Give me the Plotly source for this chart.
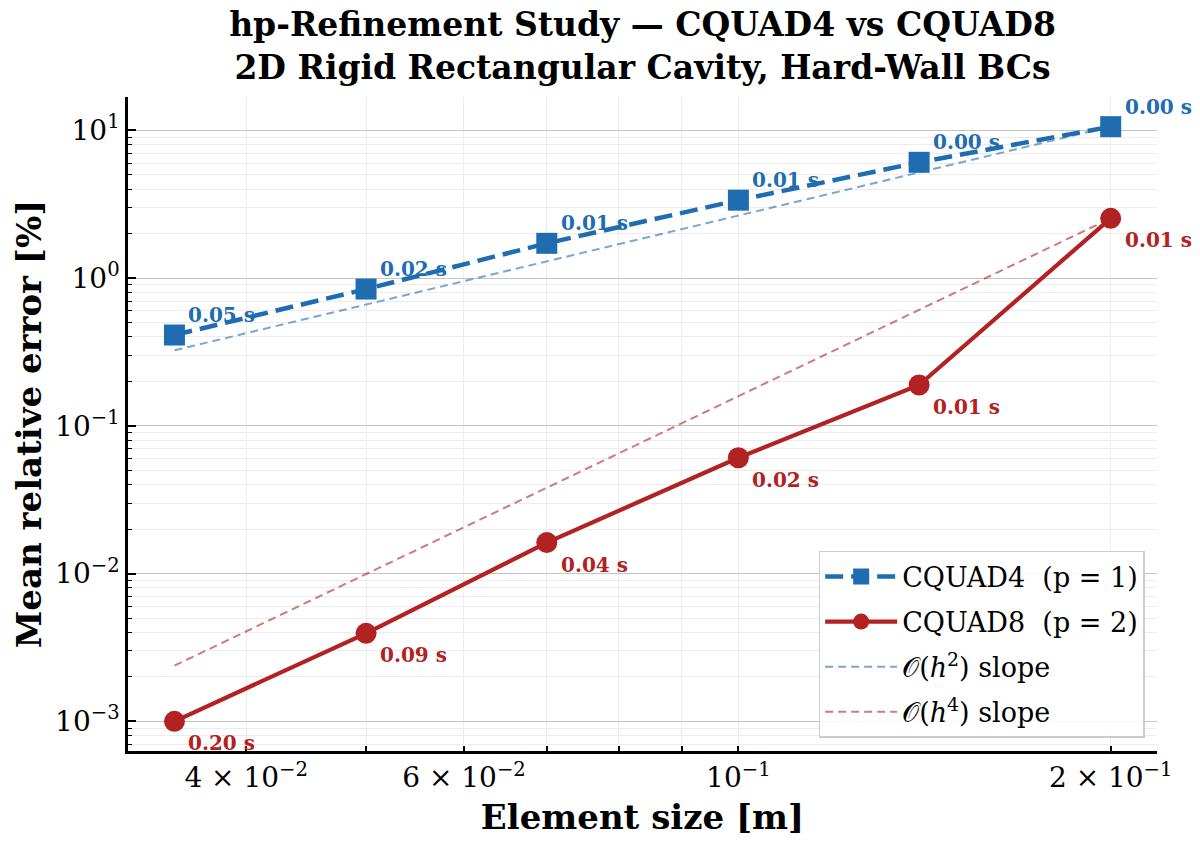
import numpy as np
import plotly.graph_objects as go

# %% data
element_size = [0.035, 0.05, 0.07, 0.1, 0.14, 0.2]
err_cquad4 = [0.412, 0.843, 1.72, 3.37, 6.08, 10.6]
err_cquad8 = [0.001, 0.00394, 0.0162, 0.0608, 0.189, 2.54]
time_cquad4 = ['0.05 s', '0.02 s', '0.01 s', '0.01 s', '0.00 s', '0.00 s']
time_cquad8 = ['0.20 s', '0.09 s', '0.04 s', '0.02 s', '0.01 s', '0.01 s']

x_tickvals = [0.04, 0.06, 0.1, 0.2]
x_ticktext = ['4 × 10<sup>−2</sup>', '6 × 10<sup>−2</sup>', '10<sup>−1</sup>', '2 × 10<sup>−1</sup>']
y_tickvals = [1e-3, 1e-2, 1e-1, 1e0, 1e1]
y_ticktext = ['10<sup>−3</sup>', '10<sup>−2</sup>', '10<sup>−1</sup>', '10<sup>0</sup>', '10<sup>1</sup>']

BLUE = '#1f6db0'
RED = '#b22222'
FONT = 'DejaVu Serif'

# reference slopes anchored at the coarsest mesh
h = np.array(element_size)
slope2 = err_cquad4[-1] * (h / h[-1]) ** 2
slope4 = err_cquad8[-1] * (h / h[-1]) ** 4

fig = go.Figure()
fig.add_trace(go.Scatter(
    x=element_size, y=err_cquad4, mode='lines+markers', name='CQUAD4  (p = 1)', legendgroup='a',
    line=dict(color=BLUE, width=4.5, dash='18px,8px'),
    marker=dict(symbol='square', size=21, color=BLUE)))
fig.add_trace(go.Scatter(
    x=element_size, y=err_cquad8, mode='lines+markers', name='CQUAD8  (p = 2)', legendgroup='b',
    line=dict(color=RED, width=4.2),
    marker=dict(symbol='circle', size=21, color=RED)))
fig.add_trace(go.Scatter(
    x=element_size, y=slope2, mode='lines', name='𝒪(<i>h</i><sup>2</sup>) slope', legendgroup='c',
    line=dict(color='rgba(31,109,176,0.6)', width=2, dash='8px,5px')))
fig.add_trace(go.Scatter(
    x=element_size, y=slope4, mode='lines', name='𝒪(<i>h</i><sup>4</sup>) slope', legendgroup='d',
    line=dict(color='rgba(178,34,34,0.6)', width=2, dash='8px,5px')))

for xv, yv, t in zip(element_size, err_cquad4, time_cquad4):
    fig.add_annotation(x=np.log10(xv), y=np.log10(yv), text=f'<b>{t}</b>', showarrow=False,
                       xanchor='left', yanchor='middle', xshift=12, yshift=20,
                       font=dict(family=FONT, size=20, color=BLUE))
for xv, yv, t in zip(element_size, err_cquad8, time_cquad8):
    fig.add_annotation(x=np.log10(xv), y=np.log10(yv), text=f'<b>{t}</b>', showarrow=False,
                       xanchor='left', yanchor='middle', xshift=12, yshift=-22,
                       font=dict(family=FONT, size=20, color=RED))

x_minor = [0.04, 0.05, 0.06, 0.07, 0.08, 0.09, 0.2]
y_minor = [m * 10.0 ** e for e in range(-4, 2) for m in range(2, 10)]
x_range = [np.log10(0.0321), np.log10(0.218)]

# page body adds an 8px offset, so the figure is 8px smaller and margins shifted
fig.update_layout(
    width=1192, height=834,
    paper_bgcolor='white', plot_bgcolor='white',
    margin=dict(l=120, r=43, t=89, b=87),
    font=dict(family=FONT, color='black'),
    title=dict(text='<b>hp-Refinement Study — CQUAD4 vs CQUAD8<br>2D Rigid Rectangular Cavity, Hard-Wall BCs</b>',
               x=0.5, xref='paper', xanchor='center', y=0.966, yanchor='middle',
               font=dict(family=FONT, size=33, color='black')),
    xaxis=dict(type='log', range=x_range,
               tickvals=x_tickvals, ticktext=x_ticktext,
               tickfont=dict(size=28), ticks='inside', ticklen=5, tickwidth=1.5, tickcolor='black',
               showgrid=True, gridcolor='#ececec', gridwidth=1,
               minor=dict(tickvals=x_minor, ticks='inside', ticklen=5, tickwidth=1.5, tickcolor='black',
                          showgrid=True, gridcolor='#ececec', gridwidth=1),
               showline=True, linecolor='black', linewidth=2.5, zeroline=False,
               title=dict(text='<b>Element size [m]</b>', font=dict(size=34), standoff=12)),
    xaxis2=dict(type='log', overlaying='x', matches='x', range=x_range,
                tickvals=[0.1], showticklabels=False, ticks='inside', ticklen=8, tickwidth=1.5,
                tickcolor='black', showgrid=True, gridcolor='#c4c4c4', zeroline=False, showline=False),
    yaxis=dict(type='log', range=[-3.201, 1.226],
               tickvals=y_tickvals, ticktext=y_ticktext,
               tickfont=dict(size=28), ticks='inside', ticklen=8, tickwidth=1.5, tickcolor='black',
               showgrid=True, gridcolor='#c4c4c4', gridwidth=1,
               minor=dict(tickvals=y_minor, ticks='inside', ticklen=4, tickwidth=1.2, tickcolor='black',
                          showgrid=True, gridcolor='#ececec', gridwidth=1),
               showline=True, linecolor='black', linewidth=2.5, zeroline=False,
               title=dict(text='<b>Mean relative error [%]</b>', font=dict(size=34), standoff=4)),
    legend=dict(x=0.988, y=0.02, xanchor='right', yanchor='bottom',
                bgcolor='rgba(255,255,255,0.9)', bordercolor='#cccccc', borderwidth=1.5,
                font=dict(family=FONT, size=27), itemwidth=72, tracegroupgap=7,
                traceorder='grouped'),
    showlegend=True,
)

fig.write_html('out.html')
